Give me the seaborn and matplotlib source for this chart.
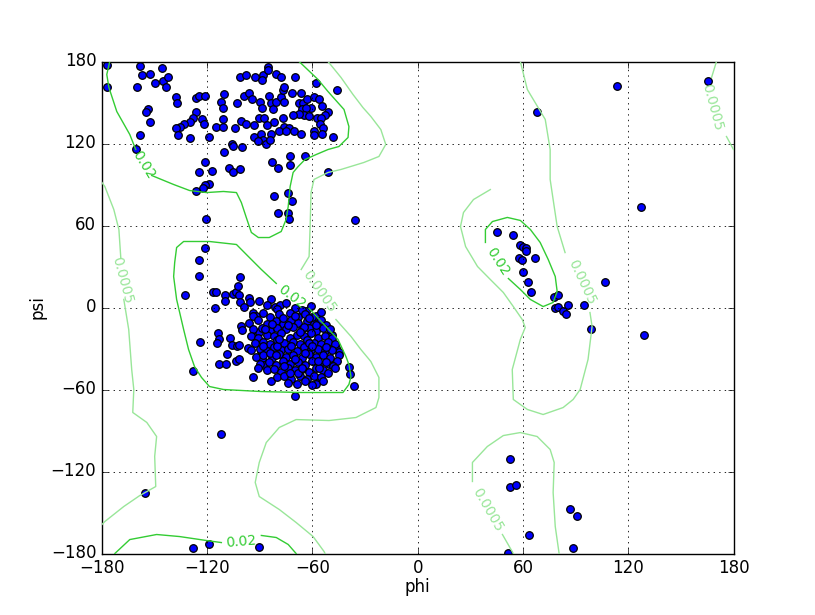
import numpy as np
import pandas as pd
import matplotlib
matplotlib.use("Agg")
import matplotlib.pyplot as plt
import seaborn as sns

# --- dihedral angles (degrees) ---
beta_phi = [-177.2, -177.2, -158.4, -157.3, -152.7, -145.9, -149.9, -145.4, -142.5, -143.7, -160.1, -138.0,
            -137.4, -126.6, -124.9, -121.0, -126.6, -153.9, -155.0, -152.7, -127.8, -129.5, -133.4, -135.7,
            -138.0, -123.2, -122.0, -136.8, -129.5, -118.7, -158.4, -160.7, -114.7, -110.7, -110.7, -111.9,
            -110.2, -110.7, -105.6, -110.2, -121.0,
            -101.1, -97.7, -92.6, -88.0, -88.6, -85.2, -85.2, -80.6, -77.8, -69.8, -57.9, -46.0, -98.8, -96.0,
            -94.3, -102.8, -89.7, -88.6, -84.6, -83.5, -82.3, -80.6, -77.8, -76.7, -76.1, -76.1, -71.5, -66.4,
            -67.6, -65.3, -63.0, -60.8, -59.1, -56.2, -54.5, -51.1, -52.8, -65.9, -63.6, -64.7, -67.6, -61.9,
            -57.4, -55.1, -71.0, -76.7, -76.1, -73.2, -90.3, -87.4, -81.8, -85.7, -100.5, -97.7, -93.1, -103.9,
            -78.9, -75.0, -70.4, -66.4, -55.6, -53.9, -59.1, -54.5, -59.1, -93.1, -89.1, -83.5, -88.0, -86.3,
            -84.0, -90.8, -48.3, -105.0, -99.9, -82.9, -72.7, -72.7, -64.2, -51.1,
            -124.9, -117.0, -107.3, -105.0, -118.7, -121.5, -122.1, -126.1, -120.4,
            -101.1, -79.5, -81.8, -73.8, -71.5, -79.5, -73.8, -73.2, -35.8]
beta_psi = [177.8, 161.0, 177.0, 169.8, 170.5, 174.9, 164.6, 165.4, 169.0, 161.0, 161.0, 153.7,
            150.0, 153.0, 154.4, 154.4, 143.4, 145.6, 143.4, 136.0, 138.3, 135.4, 134.6, 132.4,
            131.7, 137.6, 134.6, 125.9, 123.7, 125.1, 125.9, 116.3, 132.4, 137.6, 132.4, 150.7,
            155.9, 146.3, 119.3, 114.1, 106.8,
            169.0, 169.8, 168.3, 169.8, 166.1, 176.3, 174.1, 171.2, 169.0, 168.3, 164.6, 158.8, 155.1, 156.6,
            152.9, 149.3, 150.7, 146.3, 154.4, 149.3, 145.6, 150.7, 153.7, 158.8, 161.7, 150.7, 157.3, 157.3,
            150.0, 150.0, 152.2, 146.3, 153.7, 152.2, 147.1, 143.4, 141.2, 144.9, 146.3, 141.2, 141.9, 139.8,
            139.0, 139.0, 140.5, 138.3, 132.4, 131.7, 139.0, 139.0, 135.4, 133.2, 136.1, 134.6, 133.2, 131.7,
            129.5, 128.8, 128.8, 127.3, 134.6, 131.0, 129.5, 127.3, 125.9, 125.1, 126.6, 127.3, 122.2, 120.0,
            122.2, 121.5, 124.4, 118.5, 117.8, 106.8, 110.5, 104.6, 110.5, 98.8,
            99.4, 100.2, 102.4, 98.8, 90.7, 89.3, 87.1, 84.9, 65.1,
            101.0, 102.4, 81.9, 84.1, 77.6, 69.5, 68.8, 64.4, 63.7]

alpha_phi = [-121.5, -124.9, -124.9, -132.9, -116.4, -114.7, -109.6, -109.6, -105.0, -103.4, -101.1, -102.2,
             -101.6, -101.1, -98.8, -96.0, -95.4, -90.3, -115.3, -93.7, -92.0, -100.5, -99.9, -113.6, -113.0,
             -114.1, -106.7, -123.8, -105.6, -102.8, -101.6, -108.5, -96.5, -103.4, -101.6, -113.0, -109.0,
             -128.3, -93.7, -92.0, -90.3, -89.1, -88.6, -87.4, -83.5, -81.2, -78.4, -83.5, -63.6, -50.5, -48.8,
             -49.4, -46.6, -44.9, -39.2, -38.6, -36.3, -50.5, -56.2, -57.9,
             -86, -80, -75, -70, -66, -61,
             -94, -88, -84, -79, -73, -68, -64, -58, -55,
             -96, -91, -86, -81, -77, -72, -68, -63, -59, -55, -52,
             -94, -89, -84, -80, -75, -71, -66, -62, -58, -54, -50,
             -95, -91, -86, -82, -78, -73, -69, -65, -61, -57, -53, -49,
             -93, -88, -84, -80, -76, -71, -67, -63, -59, -55, -51, -47,
             -95, -90, -86, -82, -78, -74, -69, -65, -61, -57, -53, -49, -45,
             -92, -88, -83, -79, -75, -71, -66, -62, -58, -54, -50, -46,
             -90, -85, -81, -77, -73, -68, -64, -60, -56, -52, -48,
             -86, -82, -78, -74, -70, -66, -62, -58, -54, -51,
             -80, -76, -72, -67, -63, -59, -55,
             -74, -69, -64, -60,
             -77, -62, -70, -80, -56, -87, -65, -60, -73, -84,
             -83, -79, -67, -60, -72, -64, -76, -68, -57, -52, -88, -70, -62, -91, -47, -81, -74, -58,
             -66, -54]
alpha_psi = [43.9, 34.4, 23.4, 8.8, 11.7, 11.7, 9.5, 4.4, 10.2, 11.0, 22.0, 15.4,
             8.8, 3.7, 0.7, 7.3, 3.7, 5.1, -0.7, -3.7, -5.9, -13.2, -16.8, -19.0, -22.7,
             -26.3, -22.0, -24.9, -27.8, -28.5, -27.8, -33.7, -29.3, -38.8, -38.0, -41.7, -41.0,
             -46.8, -51.2, -19.0, -17.6, -31.5, -38.0, -42.4, 5.9, 0.7, 1.5, -54.1, -2.9, -19.8, -19.8,
             -25.6, -29.3, -32.9, -43.9, -49.0, -57.1, -41.7, -52.7, -56.3,
             2, -1, 3, 0, -2, 1,
             -6, -4, -7, -5, -4, -7, -5, -6, -3,
             -11, -9, -12, -10, -12, -9, -11, -10, -12, -9, -13,
             -16, -15, -17, -15, -16, -14, -16, -15, -17, -15, -16,
             -21, -22, -20, -21, -19, -22, -20, -21, -19, -22, -21, -22,
             -26, -25, -27, -24, -26, -25, -27, -24, -26, -27, -25, -27,
             -31, -30, -32, -29, -31, -30, -32, -29, -31, -30, -32, -31, -35,
             -36, -35, -37, -34, -36, -35, -37, -34, -36, -35, -37, -39,
             -41, -40, -42, -39, -41, -40, -42, -39, -41, -40, -43,
             -46, -45, -47, -44, -46, -45, -47, -44, -46, -48,
             -51, -50, -52, -50, -52, -50, -51,
             -55, -56, -54, -57,
             -8, -26, -38, -28, -44, -16, -14, -7, -48, -33,
             -12, -23, -18, -28, -28, -33, -43, -48, -39, -29, -28, -6, -8, -44, -44, -35, -13, -13,
             -44, -54]

other_phi = [-155.6, -111.9, -69.8, -127.8, -118.7, -90.3,
             52.8, 52.8, 56.2, 86.9, 90.9, 63.6, 88.6, 51.7,
             113.6, 165.2, 127.2, 106.7, 68.1,
             45.4, 54.5, 58.5, 60.2, 61.9, 61.9, 57.9, 59.6, 67.0, 60.2, 63.0, 64.7, 77.8, 80.1,
             78.4, 80.1, 82.9, 84.6, 85.7, 94.8, 98.8, 128.9]
other_psi = [-136.0, -92.2, -65.1, -176.3, -172.7, -175.6,
             -111.2, -131.0, -130.2, -147.1, -152.2, -166.1, -176.3, -179.3,
             162.4, 165.4, 73.2, 19.0, 143.4,
             55.6, 52.7, 45.4, 44.6, 43.2, 41.0, 35.9, 35.1, 35.9, 26.3, 18.3, 11.7, 8.0, 8.8,
             -0.7, 0.7, -2.2, -4.4, 1.5, 1.5, -15.4, -19.8]

# --- density contour traces (phi, psi), NaN breaks where a label sits ---
c02_beta_phi = [-175.5, -177.2, -176.0, -171.5, -164.1, -160.7, np.nan, -151.6, -139.1, -130.0, -120.4, -110.7,
                -103.3, -100.5, -97.7, -94.8, -90.8, -84.6, -77.8, -75.0, -73.8, -72.7, -71.0, -68.1, -64.2,
                -57.9, -51.1, -44.9, -39.7, -39.2, -42.0, -51.1, -56.8, -67.6]
c02_beta_psi = [180.0, 170.5, 161.0, 143.4, 126.6, 115.6, np.nan, 96.6, 90.0, 85.6, 84.1, 84.9,
                84.1, 76.8, 65.9, 54.9, 51.2, 51.2, 55.6, 64.4, 73.9, 88.5, 98.8, 103.2, 108.3,
                111.9, 115.6, 117.8, 124.4, 132.4, 144.9, 158.0, 166.8, 180.0]
c02_bottom_phi = [-172.6, -164.1, -148.8, -135.7, -120.4, -111.9, np.nan, -89.1, -80.6, -73.8, -69.3]
c02_bottom_psi = [-180.0, -169.8, -166.1, -167.6, -170.5, -172.0, np.nan, -166.8, -168.3, -173.4, -180.0]
c02_alpha_phi = [-80.6, -89.1, -96.5, -103.3, -118.7, -133.4, -137.4, -138.5, -139.1, -137.4, -133.4, -130.6,
                 -127.2, -123.2, -118.7, -110.7, -89.1, -66.4, -42.6, -39.2, -38.0, -39.2, -40.9, -45.4,
                 -53.4, -61.9]
c02_alpha_psi = [17.6, 27.8, 37.3, 46.1, 48.3, 48.3, 43.9, 32.9, 22.7, 5.9, -16.1, -30.7,
                 -43.2, -51.2, -57.8, -60.0, -61.5, -62.2, -62.2, -56.3, -50.5, -41.7, -35.9, -23.4,
                 -12.4, -0.7]
c02_left_phi = [38.6, 38.6, 42.6, 51.1, 58.5, 64.2, 69.8, 74.4, 78.4, 79.5, 77.2, 71.5, 64.2, 58.5, 51.7]
c02_left_psi = [47.6, 57.1, 62.9, 65.9, 63.7, 57.1, 47.6, 35.1, 22.7, 11.7, 3.7, 0.7, 5.9, 13.2, 21.2]

c0005_edge_phi = [-180.0, -178.3, -173.2, -170.3, -169.2, np.nan, -167.5, -164.7, -163.0, -161.8, -162.4,
                  -154.4, -148.8, -149.9, -149.3, -158.4, -167.5, -178.3, -180.0]
c0005_edge_psi = [91.5, 88.5, 71.7, 57.1, 36.0, np.nan, 5.9, -16.1, -45.4, -60.0, -76.8,
                  -84.1, -94.4, -109.0, -131.0, -137.6, -145.6, -156.6, -158.8]
c0005_mid_phi = [-51.1, -43.7, -36.9, -31.2, -26.7, -21.0, -18.2, -22.1, -30.7, -43.7, -51.1, -59.1, -60.8,
                 -61.3, -61.9, -66.4, np.nan, -46.6, -38.0, -32.4, -26.7, -22.1, -22.1, -23.8, -35.2, -50.5,
                 -69.3, -78.9, -86.3, -90.3, -92.6, -90.3, -78.9, -69.3, -59.6, -53.4, -52.8]
c0005_mid_psi = [180.0, 168.3, 155.9, 146.3, 139.8, 130.2, 119.3, 110.5, 106.1, 101.0, 98.8, 93.7, 84.1,
                 59.3, 37.3, 27.8, np.nan, -8.8, -21.2, -30.7, -39.5, -51.2, -65.9, -73.2, -80.5, -82.7,
                 -82.0, -87.8, -98.8, -113.4, -128.0, -138.3, -147.8, -157.3, -167.6, -178.5, -180.0]
c0005_right_phi = [58.5, 62.5, 72.7, 75.5, 75.5, 77.2, 79.5, 84.0, np.nan, 98.2, 99.4, 97.1, 92.6, 88.6,
                   82.9, 71.5, 62.5, 54.5, 53.9, 58.5, 61.3, 59.6, 54.5, 48.8, 41.4, 34.1, 27.3, 24.4,
                   26.1, 31.8, 41.4]
c0005_right_psi = [180.0, 159.5, 137.6, 115.6, 93.7, 79.0, 59.3, 40.2, np.nan, -3.7, -13.9, -38.0, -60.0,
                   -67.3, -73.2, -78.3, -74.6, -67.3, -45.4, -23.4, -14.6, -8.8, 0.7, 11.0, 20.5, 30.0,
                   44.6, 59.3, 69.5, 79.0, 86.3]
c0005_low_phi = [54.5, 48.3, np.nan, 31.2, 31.2, 39.7, 48.8, 58.5, 68.1, 75.5, 77.8, 77.2, 78.4, 80.6]
c0005_low_psi = [-180.0, -166.1, np.nan, -127.3, -113.4, -101.7, -93.7, -91.5, -94.4, -103.9, -113.4,
                 -135.4, -160.2, -180.0]
c0005_corner_phi = [170.3, 167.5, np.nan, 176.0, 180.0]
c0005_corner_psi = [180.0, 168.3, np.nan, 125.1, 115.6]

# label text, position (phi, psi) and screen rotation
label_text = ["0.02", "0.02", "0.02", "0.02", "0.0005", "0.0005", "0.0005", "0.0005", "0.0005"]
label_phi = [-156.2, -71.5, 45.4, -100.5, -168.6, -56.2, 93.7, 39.7, 168.0]
label_psi = [104.6, 8.0, 33.7, -171.2, 19.8, 11.7, 18.3, -147.8, 146.3]
label_rot = [-58, -37, -57, 5, -75, -55, -65, -60, -75]

dark_green = "#33cc33"
light_green = "#99e699"

plt.style.use("classic")
fig, ax = plt.subplots(figsize=(8.15, 6.15), dpi=100)
fig.patch.set_facecolor("white")

points = pd.DataFrame({
    "phi": beta_phi + alpha_phi + other_phi,
    "psi": beta_psi + alpha_psi + other_psi,
})
sns.scatterplot(data=points, x="phi", y="psi", ax=ax, color="blue", edgecolor="black",
                s=30, linewidth=0.9, zorder=2)

for xs, ys in [(c02_beta_phi, c02_beta_psi), (c02_bottom_phi, c02_bottom_psi),
               (c02_alpha_phi, c02_alpha_psi), (c02_left_phi, c02_left_psi)]:
    ax.plot(xs, ys, color=dark_green, lw=1.0, zorder=3)
for xs, ys in [(c0005_edge_phi, c0005_edge_psi), (c0005_mid_phi, c0005_mid_psi),
               (c0005_right_phi, c0005_right_psi), (c0005_low_phi, c0005_low_psi),
               (c0005_corner_phi, c0005_corner_psi)]:
    ax.plot(xs, ys, color=light_green, lw=1.0, zorder=3)

for t, x, y, r in zip(label_text, label_phi, label_psi, label_rot):
    ax.text(x, y, t, color=dark_green if t == "0.02" else light_green, fontsize=10,
            rotation=r, ha="center", va="center", zorder=4)

ax.set_xlim(-180, 180)
ax.set_ylim(-180, 180)
ax.set_xticks(range(-180, 181, 60))
ax.set_yticks(range(-180, 181, 60))
ax.grid(True, color="black", linestyle=":", linewidth=0.6)
ax.set_xlabel("phi", labelpad=1)
ax.set_ylabel("psi", labelpad=3)

fig.savefig("out.png", dpi=100, facecolor="white")
